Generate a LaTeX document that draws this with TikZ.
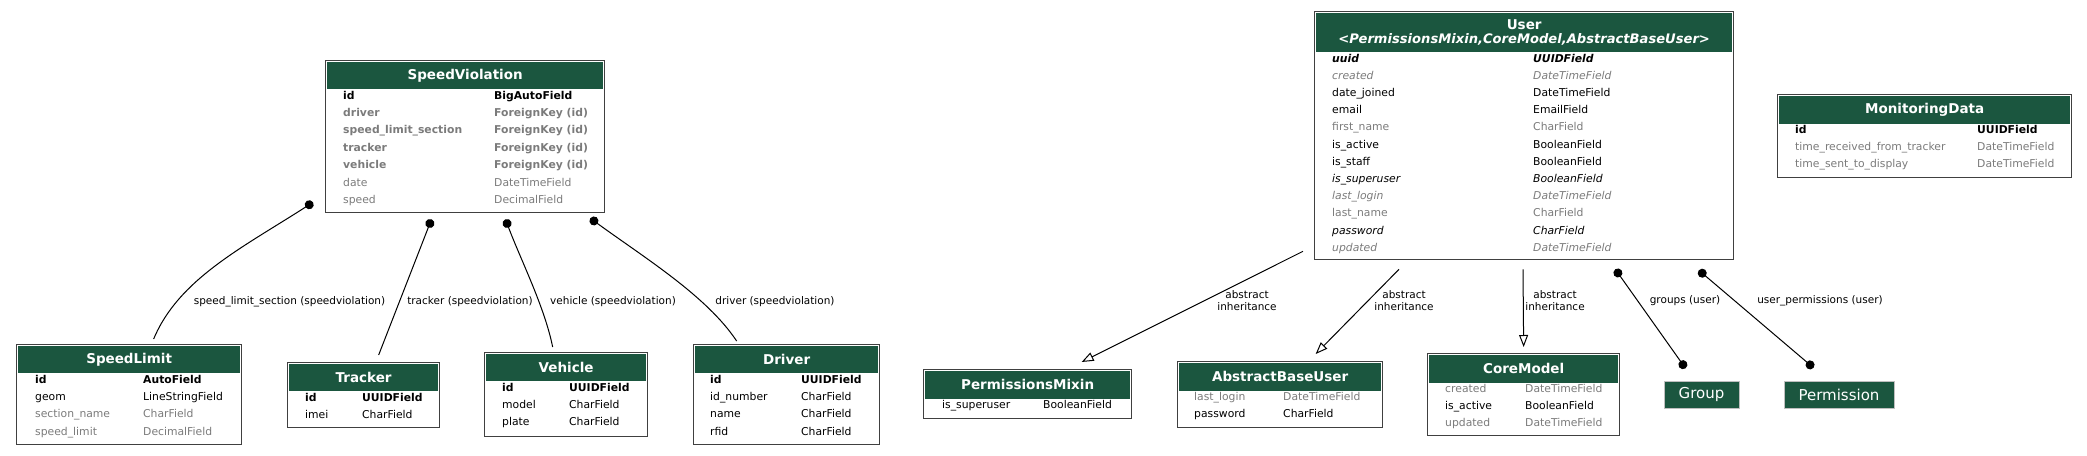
\documentclass[tikz,border=0pt]{standalone}
\usepackage{fontspec}
\setmainfont{DejaVu Sans}
\usepackage{xcolor}
\usetikzlibrary{arrows.meta}

\definecolor{hdrgreen}{HTML}{1B563F}
\definecolor{fieldgray}{HTML}{7B7B7B}

% field formats
\newcommand{\pkey}[1]{\textbf{#1}}
\newcommand{\fkey}[1]{\textcolor{fieldgray}{\textbf{#1}}}
\newcommand{\opt}[1]{\textcolor{fieldgray}{#1}}
\newcommand{\inh}[1]{\textit{#1}}
\newcommand{\inhopt}[1]{\textcolor{fieldgray}{\textit{#1}}}
\newcommand{\inhpk}[1]{\textbf{\textit{#1}}}

\begin{document}
\begin{tikzpicture}[x=1pt, y=-1pt]
        \tikzstyle {box} = [draw=black!75, line width=1.3pt, inner sep=0pt, anchor=north west]
        \tikzstyle {hdr} = [fill=hdrgreen, text=white, inner sep=0pt, anchor=north,
                            font=\fontsize{13.5}{14}\selectfont\bfseries]
        \tikzstyle {fields} = [inner sep=0pt, anchor=base west, font=\fontsize{10.8}{17.4}\selectfont]
        \tikzstyle {ext} = [fill=hdrgreen, draw=black!25, text=white, inner sep=0pt,
                            font=\fontsize{15}{15}\selectfont]
        \tikzstyle {lbl} = [inner sep=0pt, align=center, font=\fontsize{10.5}{12}\selectfont]
        \tikzstyle {fk} = [{Circle[length=9pt]}-, line width=1pt]
        \tikzstyle {rel} = [{Circle[length=9pt]}-{Circle[length=9pt]}, line width=1pt]
        \tikzstyle {inherit} = [-{Triangle[open, length=12pt, width=9pt]}, line width=1pt]

        \useasboundingbox (0,0) rectangle (2087,455);

        % SpeedViolation
        \node [box, minimum width=279pt, minimum height=152pt] (sv_box) at (325,60) {};
        \node [hdr, minimum width=276pt, minimum height=27.5pt] (sv) at ([yshift=-1.5pt]sv_box.north) {SpeedViolation};
        \node [fields] (sv_f) at (343,99) {\begin{tabular}[t]{@{}p{151pt}@{}l@{}}
            \pkey{id} & \pkey{BigAutoField}\\
            \fkey{driver} & \fkey{ForeignKey (id)}\\
            \fkey{speed\_limit\_section} & \fkey{ForeignKey (id)}\\
            \fkey{tracker} & \fkey{ForeignKey (id)}\\
            \fkey{vehicle} & \fkey{ForeignKey (id)}\\
            \opt{date} & \opt{DateTimeField}\\
            \opt{speed} & \opt{DecimalField}
        \end{tabular}};

        % SpeedLimit
        \node [box, minimum width=225pt, minimum height=100pt] (sl_box) at (16,344) {};
        \node [hdr, minimum width=222pt, minimum height=27.5pt] (sl) at ([yshift=-1.5pt]sl_box.north) {SpeedLimit};
        \node [fields] (sl_f) at (35,383) {\begin{tabular}[t]{@{}p{108pt}@{}l@{}}
            \pkey{id} & \pkey{AutoField}\\
            geom & LineStringField\\
            \opt{section\_name} & \opt{CharField}\\
            \opt{speed\_limit} & \opt{DecimalField}
        \end{tabular}};

        % Tracker
        \node [box, minimum width=152pt, minimum height=65pt] (tr_box) at (287,362) {};
        \node [hdr, minimum width=149pt, minimum height=27.5pt] (tr) at ([yshift=-1.5pt]tr_box.north) {Tracker};
        \node [fields] (tr_f) at (305,401) {\begin{tabular}[t]{@{}p{57pt}@{}l@{}}
            \pkey{id} & \pkey{UUIDField}\\
            imei & CharField
        \end{tabular}};

        % Vehicle
        \node [box, minimum width=163pt, minimum height=84pt] (ve_box) at (484,352) {};
        \node [hdr, minimum width=160pt, minimum height=27.5pt] (ve) at ([yshift=-1.5pt]ve_box.north) {Vehicle};
        \node [fields] (ve_f) at (502,391) {\begin{tabular}[t]{@{}p{67pt}@{}l@{}}
            \pkey{id} & \pkey{UUIDField}\\
            model & CharField\\
            plate & CharField
        \end{tabular}};

        % Driver
        \node [box, minimum width=186pt, minimum height=100pt] (dr_box) at (693,344) {};
        \node [hdr, minimum width=183pt, minimum height=27.5pt] (dr) at ([yshift=-1.5pt]dr_box.north) {Driver};
        \node [fields] (dr_f) at (710,383) {\begin{tabular}[t]{@{}p{91pt}@{}l@{}}
            \pkey{id} & \pkey{UUIDField}\\
            id\_number & CharField\\
            name & CharField\\
            rfid & CharField
        \end{tabular}};

        % User
        \node [box, minimum width=419pt, minimum height=248pt] (us_box) at (1314,11) {};
        \node [hdr, minimum width=416pt, minimum height=39.5pt, align=center] (us) at ([yshift=-1.5pt]us_box.north)
            {User\\\fontsize{13.1}{14}\selectfont\textit{<PermissionsMixin,CoreModel,AbstractBaseUser>}};
        \node [fields, font=\fontsize{10.8}{17.2}\selectfont] (us_f) at (1332,62) {\begin{tabular}[t]{@{}p{201pt}@{}l@{}}
            \inhpk{uuid} & \inhpk{UUIDField}\\
            \inhopt{created} & \inhopt{DateTimeField}\\
            date\_joined & DateTimeField\\
            email & EmailField\\
            \opt{first\_name} & \opt{CharField}\\
            is\_active & BooleanField\\
            is\_staff & BooleanField\\
            \inh{is\_superuser} & \inh{BooleanField}\\
            \inhopt{last\_login} & \inhopt{DateTimeField}\\
            \opt{last\_name} & \opt{CharField}\\
            \inh{password} & \inh{CharField}\\
            \inhopt{updated} & \inhopt{DateTimeField}
        \end{tabular}};

        % MonitoringData
        \node [box, minimum width=294pt, minimum height=83pt] (md_box) at (1777,94) {};
        \node [hdr, minimum width=291pt, minimum height=28.5pt] (md) at ([yshift=-1.5pt]md_box.north) {MonitoringData};
        \node [fields] (md_f) at (1795,133) {\begin{tabular}[t]{@{}p{182pt}@{}l@{}}
            \pkey{id} & \pkey{UUIDField}\\
            \opt{time\_received\_from\_tracker} & \opt{DateTimeField}\\
            \opt{time\_sent\_to\_display} & \opt{DateTimeField}
        \end{tabular}};

        % PermissionsMixin
        \node [box, minimum width=208pt, minimum height=49pt] (pm_box) at (923,369) {};
        \node [hdr, minimum width=205pt, minimum height=28.5pt] (pm) at ([yshift=-1.5pt]pm_box.north) {PermissionsMixin};
        \node [fields] (pm_f) at (942,408) {\begin{tabular}[t]{@{}p{101pt}@{}l@{}}
            is\_superuser & BooleanField
        \end{tabular}};

        % AbstractBaseUser
        \node [box, minimum width=205pt, minimum height=66pt] (abu_box) at (1177,361) {};
        \node [hdr, minimum width=202pt, minimum height=28.5pt] (abu) at ([yshift=-1.5pt]abu_box.north) {AbstractBaseUser};
        \node [fields] (abu_f) at (1194,400) {\begin{tabular}[t]{@{}p{89pt}@{}l@{}}
            \opt{last\_login} & \opt{DateTimeField}\\
            password & CharField
        \end{tabular}};

        % CoreModel
        \node [box, minimum width=192pt, minimum height=82pt] (cm_box) at (1427,353) {};
        \node [hdr, minimum width=189pt, minimum height=28.5pt] (cm) at ([yshift=-1.5pt]cm_box.north) {CoreModel};
        \node [fields] (cm_f) at (1445,392) {\begin{tabular}[t]{@{}p{80pt}@{}l@{}}
            \opt{created} & \opt{DateTimeField}\\
            is\_active & BooleanField\\
            \opt{updated} & \opt{DateTimeField}
        \end{tabular}};

        % external models
        \node [ext, minimum width=75pt, minimum height=27pt] (grp) at (1701.5,394.5) {Group};
        \node [ext, minimum width=110pt, minimum height=27pt] (perm) at (1839,394.5) {Permission};

        % foreign keys of SpeedViolation
        \draw [fk] ([xshift=-12pt, yshift=11pt]sv_box.south west) .. controls +(-70,45) and +(25,-60) .. ([xshift=24.5pt, yshift=5pt]sl_box.north);
        \draw [fk] ([xshift=106.5pt, yshift=-6pt]sv_box.south west) -- ([xshift=15pt, yshift=7pt]tr_box.north);
        \draw [fk] ([xshift=180.5pt, yshift=-6pt]sv_box.south west) .. controls +(15,40) and +(-8,-40) .. ([xshift=-13.5pt, yshift=5pt]ve_box.north);
        \draw [fk] ([xshift=-15pt, yshift=-5pt]sv_box.south east) .. controls +(55,40) and +(-30,-45) .. ([xshift=-50pt, yshift=3pt]dr_box.north);

        \node [lbl] (l_sl) at (289.5,302) {speed\_limit\_section (speedviolation)};
        \node [lbl] (l_tr) at (470,302) {tracker (speedviolation)};
        \node [lbl] (l_ve) at (613,302) {vehicle (speedviolation)};
        \node [lbl] (l_dr) at (775,302) {driver (speedviolation)};

        % inheritance of User
        \draw [inherit] ([xshift=-11pt, yshift=9pt]us_box.south west) -- ([xshift=54pt, yshift=7pt]pm_box.north);
        \draw [inherit] ([xshift=85pt, yshift=-9pt]us_box.south west) -- ([xshift=35.5pt, yshift=7pt]abu_box.north);
        \draw [inherit] ([xshift=209pt, yshift=-9pt]us_box.south west) -- ([yshift=6pt]cm_box.north);

        \node [lbl] (l_pm) at (1247,301) {abstract\\inheritance};
        \node [lbl] (l_abu) at (1404,301) {abstract\\inheritance};
        \node [lbl] (l_cm) at (1555,301) {abstract\\inheritance};

        % many to many of User
        \draw [rel] ([xshift=-119pt, yshift=-9pt]us_box.south east) -- ([xshift=-16pt, yshift=12.5pt]grp.north);
        \draw [rel] ([xshift=-35.5pt, yshift=-10pt]us_box.south east) -- ([xshift=-25.5pt, yshift=13pt]perm.north);

        \node [lbl] (l_grp) at (1685,301) {groups (user)};
        \node [lbl] (l_perm) at (1820,301) {user\_permissions (user)};
\end{tikzpicture}
\end{document}
